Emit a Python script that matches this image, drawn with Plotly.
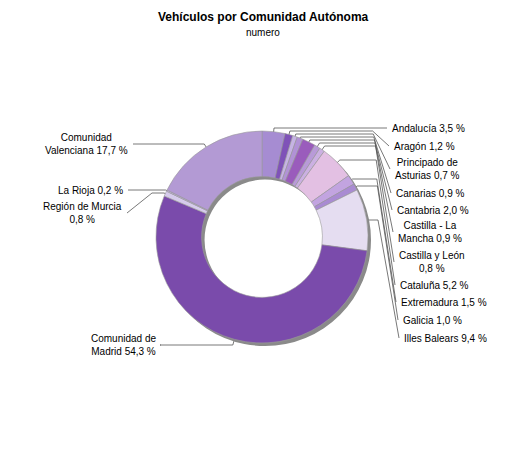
import numpy as np
import plotly.graph_objects as go

# vehículos por comunidad autónoma (porcentaje del total)
comunidades = ["Andalucía", "Aragón", "Principado de Asturias", "Canarias", "Cantabria",
               "Castilla - La Mancha", "Castilla y León", "Cataluña", "Extremadura",
               "Galicia", "Illes Balears", "Comunidad de Madrid", "Región de Murcia",
               "La Rioja", "Comunidad Valenciana"]
porcentajes = [3.5, 1.2, 0.7, 0.9, 2.0, 0.9, 0.8, 5.2, 1.5, 1.0, 9.4, 54.3, 0.8, 0.2, 17.7]
etiquetas = ["Andalucía 3,5 %", "Aragón 1,2 %", "Principado de<br>Asturias 0,7 %",
             "Canarias 0,9 %", "Cantabria 2,0 %", "Castilla - La<br>Mancha 0,9 %",
             "Castilla y León<br>0,8 %", "Cataluña 5,2 %", "Extremadura 1,5 %",
             "Galicia 1,0 %", "Illes Balears 9,4 %", "Comunidad de<br>Madrid 54,3 %",
             "Región de Murcia<br>0,8 %", "La Rioja 0,2 %", "Comunidad<br>Valenciana 17,7 %"]
colores = ["#a68cd2", "#7f52b8", "#c6b3e4", "#b192d6", "#9a5cbc", "#b89ad8", "#cbb0e2",
           "#e3c0e3", "#c2a4e0", "#a98bd2", "#e5ddf1", "#7a4bab", "#d6cbec", "#c4b4e2",
           "#b39ad4"]

W, H = 525, 450
OFF = 8  # margen del body en la página
cx, cy, R = 262, 237, 106

# posiciones de las etiquetas (px de página): lado, x, y, altura del codo, x del tramo horizontal
lado = ["r"] * 11 + ["l"] * 4
lab_x = [390, 392, 393, 394, 395, 396, 397, 398, 399, 401, 402, 158, 124, 125, 130]
lab_y = [128, 146, 169, 193, 210, 232, 262, 285, 302, 320, 338, 345, 213, 190, 144]
codo_y = [128, 131, 134, 137, 140, 143, 146, 160, 179, 186, 220, 345, 193, 190, 144]
horiz_x = [372, 372.6, 373.2, 373.8, 374.4, 375, 375.6, 376.2, 376.8, 377.4, 378,
           160, 152, 129, 133]


def dom(a, b, n):
    return [(a - OFF) / n, (b - OFF) / n]


fig = go.Figure()

# sombra
fig.add_trace(go.Pie(
    values=[1], hole=0.57, sort=False, marker=dict(colors=["#8a8a8a"]),
    textinfo="none", hoverinfo="skip", showlegend=False,
    domain=dict(x=dom(cx - R + 3, cx + R + 3, W),
                y=[1 - v for v in dom(cy + R + 3, cy - R + 3, H)])))

fig.add_trace(go.Pie(
    labels=comunidades, values=porcentajes, hole=0.57, sort=False,
    direction="clockwise", rotation=0,
    marker=dict(colors=colores, line=dict(color="#9a9a9a", width=0.6)),
    textinfo="none", showlegend=False,
    domain=dict(x=dom(cx - R, cx + R, W),
                y=[1 - v for v in dom(cy + R, cy - R, H)])))

# líneas guía
frac = np.array(porcentajes) / sum(porcentajes)
mid = (np.cumsum(frac) - frac / 2) * 2 * np.pi
xs, ys = [], []
for i, th in enumerate(mid):
    rs = 0.88 * R
    x0, y0 = cx + rs * np.sin(th), cy - rs * np.cos(th)
    t = (cy - codo_y[i]) / np.cos(th)
    if t < rs:
        t = rs
    x1, y1 = cx + t * np.sin(th), cy - t * np.cos(th)
    xe = lab_x[i] - 3 if lado[i] == "r" else lab_x[i] + 3
    xs += [x0, x1, horiz_x[i], xe, None]
    ys += [y0, codo_y[i], codo_y[i], lab_y[i], None]

fig.add_trace(go.Scatter(x=xs, y=ys, mode="lines", line=dict(color="#555555", width=0.8),
                         hoverinfo="skip", showlegend=False))

for i, txt in enumerate(etiquetas):
    fig.add_annotation(x=lab_x[i], y=lab_y[i], xref="x", yref="y", text=txt,
                       showarrow=False, xanchor="left" if lado[i] == "r" else "right",
                       yanchor="middle", align="center",
                       font=dict(family="Liberation Sans", size=10, color="#000000"))

fig.add_annotation(x=263, y=OFF, xref="x", yref="y", text="<b>Vehículos por Comunidad Autónoma</b>",
                   showarrow=False, yanchor="top",
                   font=dict(family="Liberation Sans", size=12, color="#000000"))
fig.add_annotation(x=263, y=32, xref="x", yref="y", text="numero",
                   showarrow=False, font=dict(family="Liberation Sans", size=10, color="#000000"))

fig.update_layout(
    width=W, height=H, margin=dict(l=0, r=0, t=0, b=0),
    paper_bgcolor="white", plot_bgcolor="rgba(0,0,0,0)",
    xaxis=dict(range=[OFF, W + OFF], visible=False, fixedrange=True),
    yaxis=dict(range=[H + OFF, OFF], visible=False, fixedrange=True),
)

fig.write_html("out.html")
